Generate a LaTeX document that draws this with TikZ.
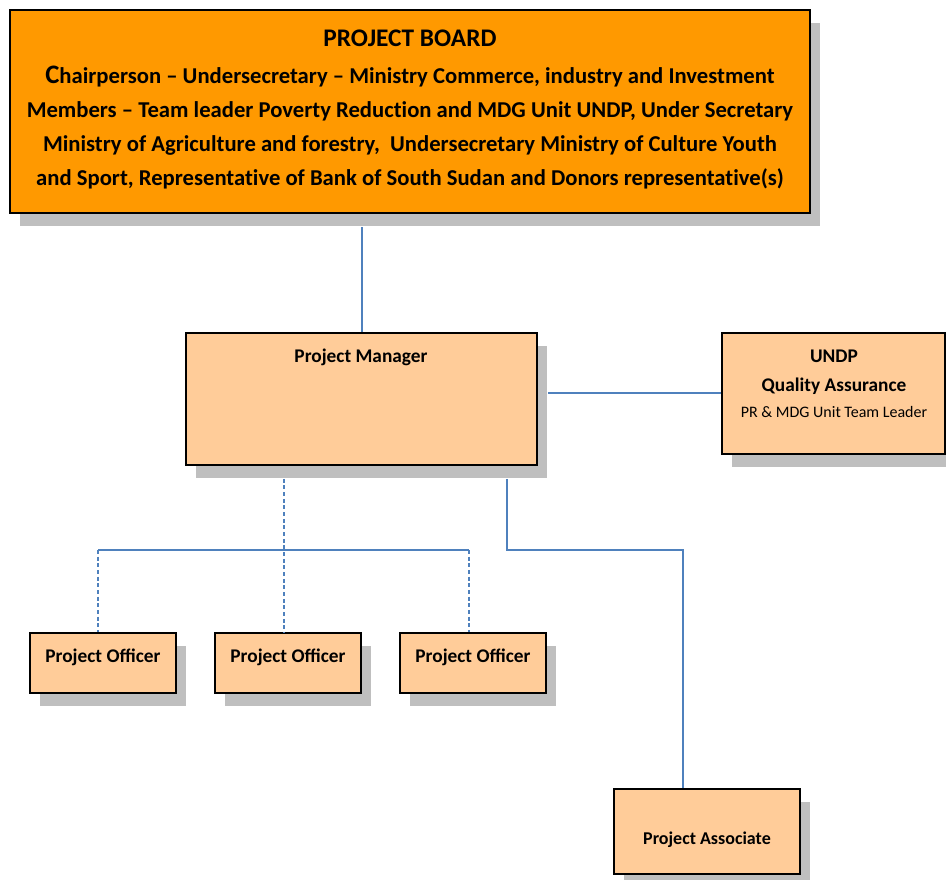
\documentclass[tikz,border=0pt]{standalone}
\usepackage{fontspec}
\setmainfont{Carlito}
\newfontfamily\boardfont{Carlito}[Ligatures=NoCommon]
\usetikzlibrary{calc,shadows}
\definecolor{boardor}{HTML}{FF9900}
\definecolor{peach}{HTML}{FFCC99}
\definecolor{shgray}{HTML}{BFBFBF}
\definecolor{lineblue}{HTML}{4F81BD}
\tikzset{
  box/.style={draw=black, line width=1.2pt, rectangle, inner sep=0pt, fill=peach,
    drop shadow={shadow xshift=7.5pt, shadow yshift=-9.75pt, fill=shgray, opacity=1}},
  boardbox/.style={box, fill=boardor},
  txt/.style={inner sep=0pt, font=\bfseries\fontsize{14.5}{17}\selectfont},
  smalltxt/.style={inner sep=0pt, font=\fontsize{12}{14}\selectfont},
  conn/.style={draw=lineblue, line width=1.5pt},
  dconn/.style={draw=lineblue, line width=1pt, dash pattern=on 3pt off 2pt},
}
\begin{document}
\begin{tikzpicture}[x=0.75pt,y=-0.75pt]
\useasboundingbox (0,0) rectangle (946,880);
% boxes
\node[boardbox, minimum width=600pt, minimum height=152.25pt] (board) at (410,111.5) {};
\node[box, minimum width=263.25pt, minimum height=99pt] (pm) at (361.5,399) {};
\node[box, minimum width=167.25pt, minimum height=90.75pt] (qa) at (833.5,393.5) {};
\node[box, minimum width=109.5pt, minimum height=45pt] (po1) at (103,663) {};
\node[box, minimum width=109.5pt, minimum height=45pt] (po2) at (288,663) {};
\node[box, minimum width=109.5pt, minimum height=45pt] (po3) at (473,663) {};
\node[box, minimum width=139.5pt, minimum height=63.75pt] (pa) at (707,831.5) {};
% texts
\node[inner sep=0pt, font=\boardfont\bfseries\fontsize{19}{22}\selectfont] (boardtitle) at (410,38) {PROJECT BOARD};
\node[inner sep=0pt, align=center, font=\boardfont\bfseries\fontsize{17}{25.5}\selectfont] (boardbody) at (410,128)
 {{\fontsize{20}{25.5}\selectfont C}hairperson – Undersecretary – Ministry Commerce, industry and Investment\\
  Members – Team leader Poverty Reduction and MDG Unit UNDP, Under Secretary\\
  Ministry of Agriculture and forestry,\ \ Undersecretary Ministry of Culture Youth\\
  and Sport, Representative of Bank of South Sudan and Donors representative(s)};
\node[txt] (pmtxt) at (361,357) {Project Manager};
\node[txt] (qa1) at (834,356) {UNDP};
\node[txt] (qa2) at (834,386) {Quality Assurance};
\node[smalltxt] (qa3) at (834,412) {PR \& MDG Unit Team Leader};
\node[txt] (po1txt) at (103,657) {Project Officer};
\node[txt] (po2txt) at (288,657) {Project Officer};
\node[txt] (po3txt) at (473,657) {Project Officer};
\node[txt, font=\bfseries\fontsize{13.5}{16}\selectfont] (patxt) at (707,840) {Project Associate};
% helper coordinates
\coordinate (bsb) at ($(board.south)+(0,13)$);
\coordinate (pmsb) at ($(pm.south)+(0,13)$);
\coordinate (pmsr) at ($(pm.east)+(10,0)$);
\coordinate (hl) at (0,550);
\coordinate (po1c) at ($(po1.north)+(-5,0)$);
\coordinate (po2c) at ($(po2.north)+(-4,0)$);
\coordinate (po3c) at ($(po3.north)+(-4,0)$);
\coordinate (pac) at ($(pa.north)+(-24,0)$);
\coordinate (pmd) at ($(pm.south)+(145.5,0)$);
% connectors
\draw[conn] (bsb -| pm.north) -- (pm.north);
\draw[conn] (qa.west -| pmsr) -- (qa.west);
\draw[conn] (po1c |- hl) -- (po3c |- hl);
\draw[dconn] (po2c |- pmsb) -- (po2c);
\draw[dconn] (po1c |- hl) -- (po1c);
\draw[dconn] (po3c |- hl) -- (po3c);
\draw[conn] (pmd |- pmsb) -- (pmd |- hl) -- (pac |- hl) -- (pac);
\end{tikzpicture}
\end{document}
